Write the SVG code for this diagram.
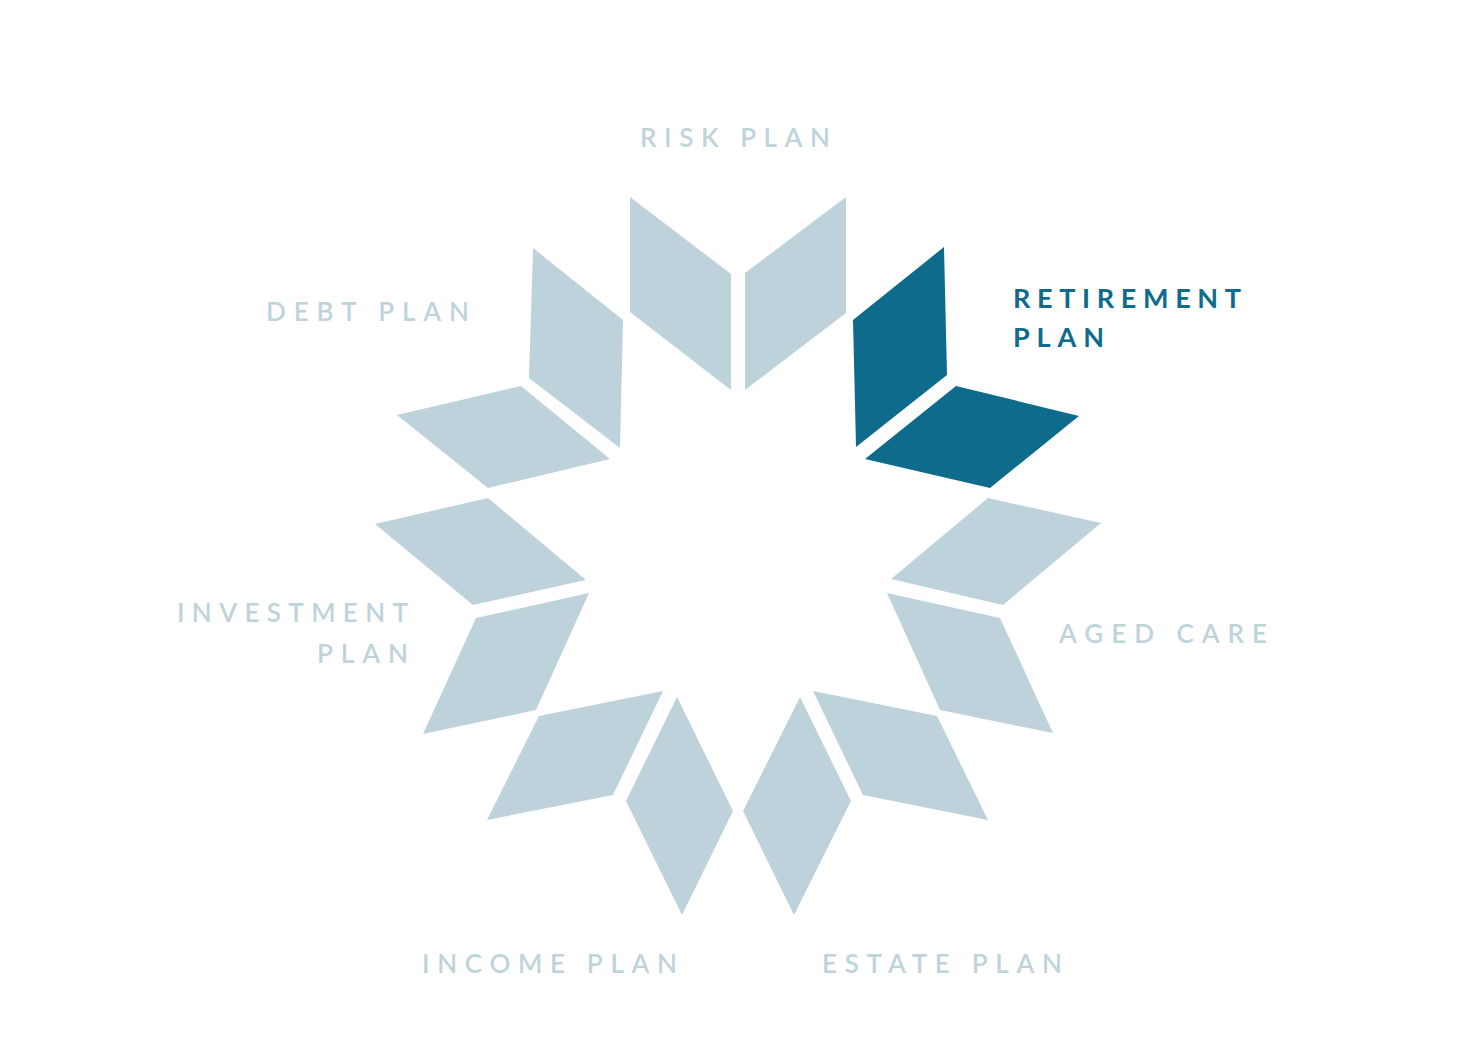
<svg xmlns="http://www.w3.org/2000/svg" width="1476" height="1063" viewBox="0 0 1476 1063">
<style>
.p{fill:#bdd2da}
.a{fill:#0e6b8c}
.t{font-family:Lato,"Liberation Sans",sans-serif;font-size:26px;font-weight:600;fill:#bfd3db}
.ta{font-family:Lato,"Liberation Sans",sans-serif;font-size:27px;font-weight:700;fill:#0e6b8c}
</style>
<rect width="1476" height="1063" fill="#ffffff"/>
<g id="risk-plan">
<polygon class="p" points="630,197 731,274 731,390 630,312"/>
<polygon class="p" points="745,273 846,197 846,313 745,390"/>
<text class="t" x="640" y="147" textLength="190" lengthAdjust="spacing">RISK PLAN</text>
</g>
<g id="retirement-plan">
<polygon class="a" points="853,320 944,247 947,375 856,447"/>
<polygon class="a" points="956,386 1079,416 990,488 865,459"/>
<text class="ta" x="1013" y="308" textLength="228" lengthAdjust="spacing">RETIREMENT</text>
<text class="ta" x="1013" y="347" textLength="91" lengthAdjust="spacing">PLAN</text>
</g>
<g id="aged-care">
<polygon class="p" points="988,498 1101,523 1003,605 891,579"/>
<polygon class="p" points="887,593 1000,618 1053,733 940,710"/>
<text class="t" x="1059" y="643" textLength="208" lengthAdjust="spacing">AGED CARE</text>
</g>
<g id="estate-plan">
<polygon class="p" points="813,691 937,716 988,820 863,795"/>
<polygon class="p" points="800,697 851,801 794,915 743,811"/>
<text class="t" x="822" y="973" textLength="240" lengthAdjust="spacing">ESTATE PLAN</text>
</g>
<g id="income-plan">
<polygon class="p" points="677,697 733,811 682,915 626,801"/>
<polygon class="p" points="539,716 663,691 613,795 487,820"/>
<text class="t" x="422" y="973" textLength="255" lengthAdjust="spacing">INCOME PLAN</text>
</g>
<g id="investment-plan">
<polygon class="p" points="488,498 586,580 473,605 375,524"/>
<polygon class="p" points="476,618 589,593 536,710 423,734"/>
<text class="t" x="177" y="622" textLength="231" lengthAdjust="spacing">INVESTMENT</text>
<text class="t" x="317" y="663" textLength="91" lengthAdjust="spacing">PLAN</text>
</g>
<g id="debt-plan">
<polygon class="p" points="533,248 623,320 620,448 529,378"/>
<polygon class="p" points="521,386 610,459 488,488 397,415"/>
<text class="t" x="266" y="321" textLength="203" lengthAdjust="spacing">DEBT PLAN</text>
</g>
<g id="connectors"/>
</svg>
